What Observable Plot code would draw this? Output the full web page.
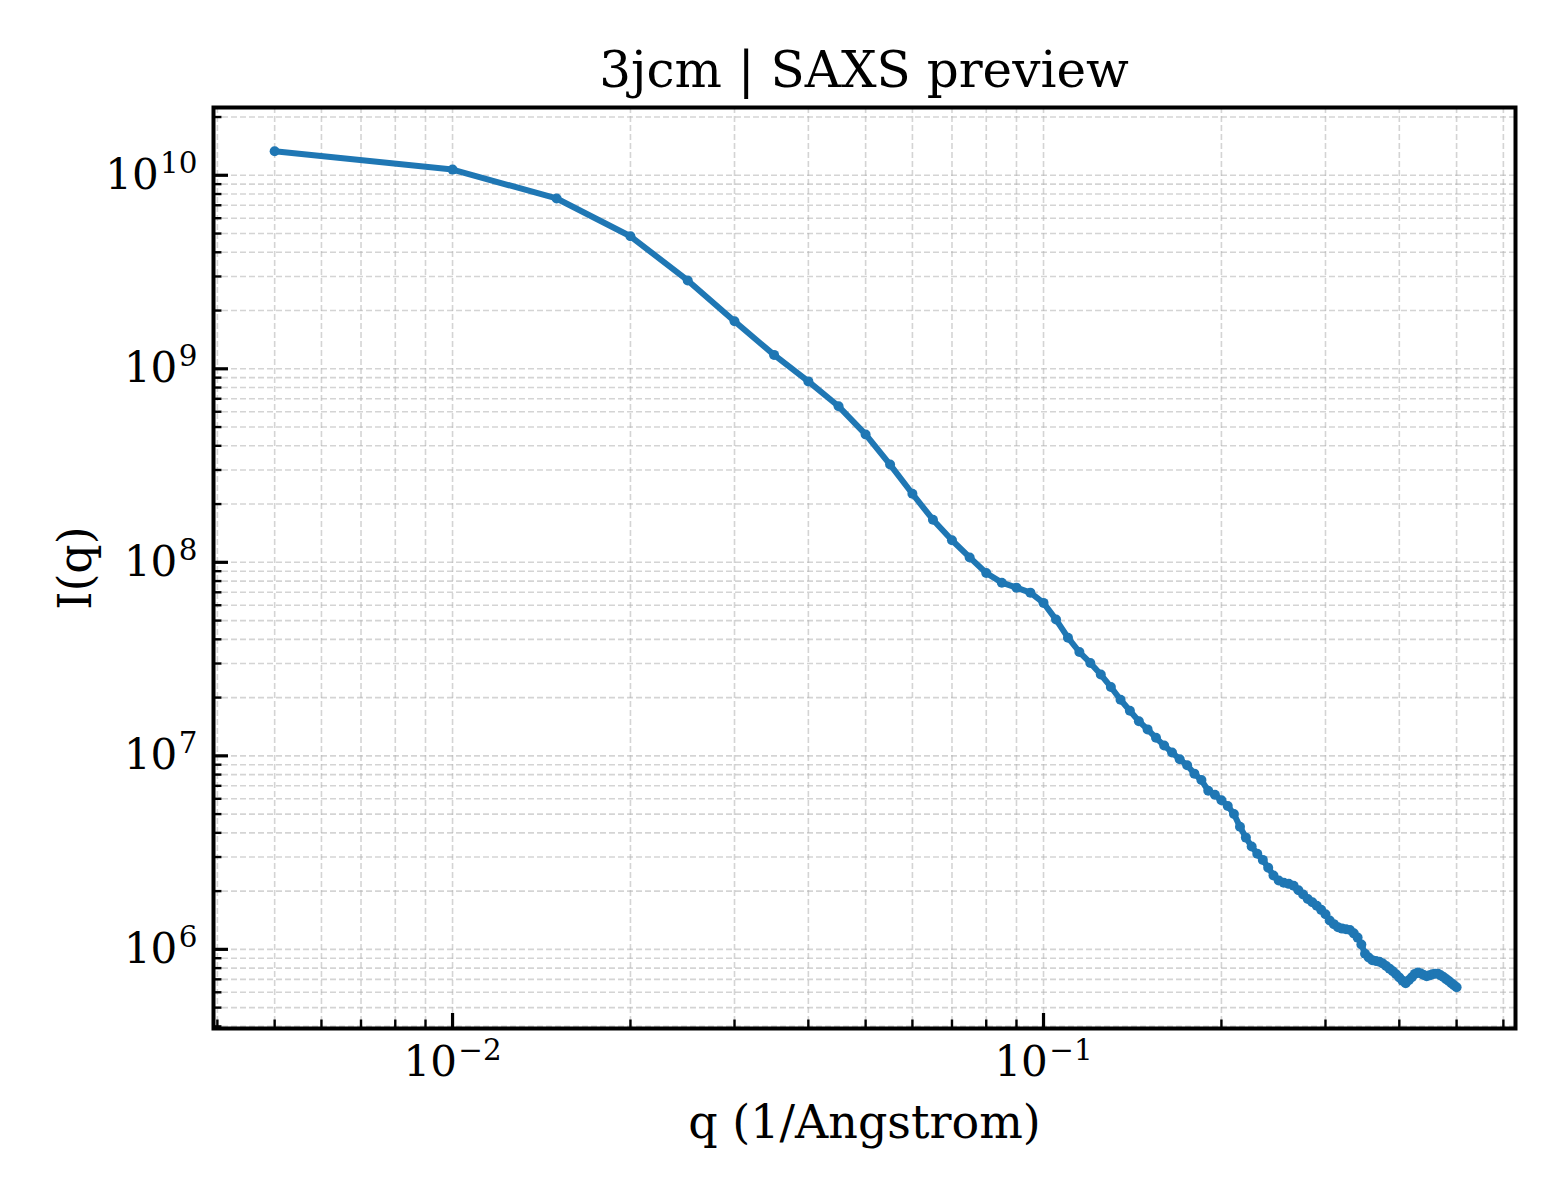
<!DOCTYPE html>
<html><head><meta charset="utf-8">
<script src="https://cdn.jsdelivr.net/npm/d3@7"></script>
<script src="https://cdn.jsdelivr.net/npm/@observablehq/plot@0.6"></script>
<style>
html,body{margin:0;padding:0;background:#fff;}
#wrap{width:1560px;height:1200px;position:relative;overflow:hidden;background:#fff;}
#title{position:absolute;left:213px;width:1302px;top:0;height:100px;text-align:center;font-family:"DejaVu Serif",serif;font-size:50px;line-height:50px;padding-top:45px;box-sizing:border-box;color:#000;white-space:nowrap;}
#chart{position:absolute;left:0;top:100px;}
</style></head><body>
<div id="wrap"><div id="title">3jcm | SAXS preview</div><div id="chart"></div></div>
<script>
const titleText = "3jcm | SAXS preview";
const xLabel = "q (1/Angstrom)";
const yLabel = "I(q)";

const qValues = [
  0.005,0.010,0.015,0.020,0.025,0.030,0.035,0.040,0.045,0.050,
  0.055,0.060,0.065,0.070,0.075,0.080,0.085,0.090,0.095,0.100,
  0.105,0.110,0.115,0.120,0.125,0.130,0.135,0.140,0.145,0.150,
  0.155,0.160,0.165,0.170,0.175,0.180,0.185,0.190,0.195,0.200,
  0.205,0.210,0.215,0.220,0.225,0.230,0.235,0.240,0.245,0.250,
  0.255,0.260,0.265,0.270,0.275,0.280,0.285,0.290,0.295,0.300,
  0.305,0.310,0.315,0.320,0.325,0.330,0.335,0.340,0.345,0.350,
  0.355,0.360,0.365,0.370,0.375,0.380,0.385,0.390,0.395,0.400,
  0.405,0.410,0.415,0.420,0.425,0.430,0.435,0.440,0.445,0.450,
  0.455,0.460,0.465,0.470,0.475,0.480,0.485,0.490,0.495,0.500
];
const intensity = [
  1.33e10,1.07e10,7.59e9,4.84e9,2.86e9,1.76e9,1.18e9,8.61e8,6.40e8,4.58e8,
  3.20e8,2.26e8,1.66e8,1.30e8,1.06e8,8.81e7,7.85e7,7.40e7,6.97e7,6.17e7,
  5.06e7,4.08e7,3.44e7,3.02e7,2.63e7,2.27e7,1.95e7,1.71e7,1.51e7,1.37e7,
  1.24e7,1.13e7,1.04e7,9.6e6,8.94e6,8.09e6,7.5e6,6.6e6,6.3e6,5.9e6,
  5.5e6,5.01e6,4.30e6,3.78e6,3.40e6,3.12e6,2.90e6,2.64e6,2.41e6,2.27e6,
  2.21e6,2.18e6,2.13e6,2.02e6,1.92e6,1.82e6,1.75e6,1.68e6,1.60e6,1.52e6,
  1.41e6,1.35e6,1.30e6,1.28e6,1.27e6,1.26e6,1.21e6,1.15e6,1.06e6,9.5e5,
  9.08e5,8.78e5,8.71e5,8.64e5,8.45e5,8.20e5,7.95e5,7.70e5,7.44e5,7.16e5,
  6.89e5,6.68e5,6.92e5,7.17e5,7.47e5,7.60e5,7.51e5,7.37e5,7.27e5,7.34e5,
  7.43e5,7.49e5,7.48e5,7.34e5,7.19e5,7.02e5,6.87e5,6.69e5,6.53e5,6.37e5
];

const xDomain = [0.00394, 0.629];
const yDomain = [3.9e5, 2.24e10];
const xMajorTicks = [0.01, 0.1];
const yMajorTicks = [1e6, 1e7, 1e8, 1e9, 1e10];
const xMinorTicks = [0.004,0.005,0.006,0.007,0.008,0.009,0.02,0.03,0.04,0.05,0.06,0.07,0.08,0.09,0.2,0.3,0.4,0.5,0.6];
const yMinorTicks = [4e5,5e5,6e5,7e5,8e5,9e5,2e6,3e6,4e6,5e6,6e6,7e6,8e6,9e6,2e7,3e7,4e7,5e7,6e7,7e7,8e7,9e7,
  2e8,3e8,4e8,5e8,6e8,7e8,8e8,9e8,2e9,3e9,4e9,5e9,6e9,7e9,8e9,9e9,2e10];

const W = 1560, H = 1100, mT = 7, mB = 172, mL = 213, mR = 45;
const plotW = W - mL - mR, plotH = H - mT - mB;
const pxPerDecX = plotW / Math.log10(xDomain[1] / xDomain[0]);
const pxPerDecY = plotH / Math.log10(yDomain[1] / yDomain[0]);
const majorLen = 15, minorLen = 8.5;
const fx = L => Math.pow(10, L / pxPerDecX);
const fy = L => Math.pow(10, L / pxPerDecY);

const data = qValues.map((q, i) => ({q, I: intensity[i]}));
const fmt = d => "10^" + String(Math.round(Math.log10(d))).replace("-", "\u2212");
const gridStyle = {stroke: "#b0b0b0", strokeOpacity: 0.55, strokeWidth: 1.6, strokeDasharray: "6,3"};

const chart = Plot.plot({
  width: W, height: H,
  marginTop: mT, marginBottom: mB, marginLeft: mL, marginRight: mR,
  style: {fontFamily: '"DejaVu Serif", serif', fontSize: "42px", color: "#000", background: "#fff", overflow: "visible"},
  x: {type: "log", domain: xDomain},
  y: {type: "log", domain: yDomain},
  marks: [
    Plot.ruleX([...xMajorTicks, ...xMinorTicks], gridStyle),
    Plot.ruleY([...yMajorTicks, ...yMinorTicks], gridStyle),
    Plot.line(data, {x: "q", y: "I", stroke: "#1f77b4", strokeWidth: 6, strokeLinejoin: "round", strokeLinecap: "round"}),
    Plot.dot(data, {x: "q", y: "I", r: 5, fill: "#1f77b4", stroke: "none"}),
    Plot.ruleX(xMajorTicks, {y1: yDomain[0], y2: yDomain[0] * fy(majorLen), stroke: "#000", strokeWidth: 3.2}),
    Plot.ruleX(xMinorTicks, {y1: yDomain[0], y2: yDomain[0] * fy(minorLen), stroke: "#000", strokeWidth: 2.4}),
    Plot.ruleY(yMajorTicks, {x1: xDomain[0], x2: xDomain[0] * fx(majorLen), stroke: "#000", strokeWidth: 3.2}),
    Plot.ruleY(yMinorTicks, {x1: xDomain[0], x2: xDomain[0] * fx(minorLen), stroke: "#000", strokeWidth: 2.4}),
    Plot.frame({stroke: "#000", strokeWidth: 4}),
    Plot.axisX(xMajorTicks, {tickSize: 0, tickPadding: 18, tickFormat: fmt, label: null, fontSize: 42}),
    Plot.axisY(yMajorTicks, {tickSize: 0, tickPadding: 16, tickFormat: fmt, label: null, fontSize: 42}),
    Plot.text([xLabel], {frameAnchor: "bottom", lineAnchor: "bottom", textAnchor: "middle", dy: 109, fontSize: 46, fill: "#000"}),
    Plot.text([yLabel], {frameAnchor: "left", lineAnchor: "middle", textAnchor: "middle", dx: -137, rotate: -90, fontSize: 46, fill: "#000"})
  ]
});

const ns = "http://www.w3.org/2000/svg";
chart.querySelectorAll('g[aria-label$="tick label"] text').forEach(t => {
  const s = t.textContent;
  if (!s.includes("^")) return;
  const [b, e] = s.split("^");
  t.textContent = "";
  const t1 = document.createElementNS(ns, "tspan");
  t1.textContent = b;
  const t2 = document.createElementNS(ns, "tspan");
  t2.textContent = e;
  t2.setAttribute("font-size", "0.7em");
  t2.setAttribute("dy", "-0.55em");
  t2.setAttribute("dx", "0.05em");
  t.appendChild(t1); t.appendChild(t2);
});
document.getElementById("title").textContent = titleText;
document.getElementById("chart").appendChild(chart);
</script></body></html>
